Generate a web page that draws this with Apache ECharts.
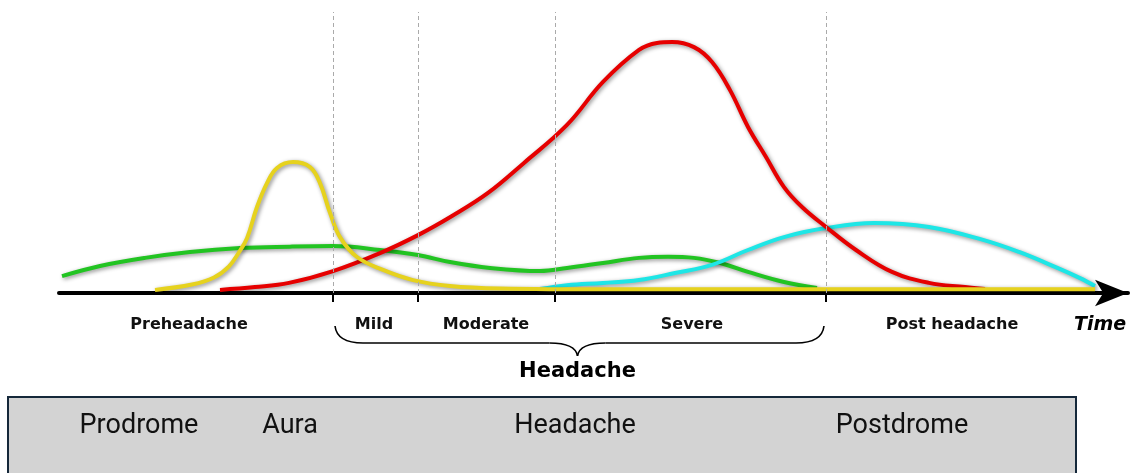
<!DOCTYPE html>
<html>
<head>
<meta charset="utf-8">
<script src="https://cdn.jsdelivr.net/npm/echarts@6/dist/echarts.min.js"></script>
<style>
html,body{margin:0;padding:0;background:#fff;}
#main{width:1134px;height:473px;}
</style>
</head>
<body>
<div id="main"></div>
<script>
// phase boundaries (time units) and labels under the axis
var boundaries = [27.4, 35.9, 49.6, 76.7];
var labelPos = [13.0, 31.5, 42.7, 63.3, 89.3, 104.1];
var labelNames = ['Preheadache', 'Mild', 'Moderate', 'Severe', 'Post headache', 'Time'];
var phaseNames = ['Prodrome', 'Aura', 'Headache', 'Postdrome'];
var phasePos = [8.0, 23.1, 51.6, 84.3];

// curves [time, intensity]
var greenData = [[0.3,6.0],[4.1,9.6],[8.6,12.5],[13.1,14.6],[18.1,16.0],[23.1,16.5],[27.4,16.7],[32.1,15.3],[35.9,13.5],[39.1,11.0],[43.1,8.9],[48.1,7.8],[50.8,8.9],[54.4,10.7],[58.0,12.5],[60.9,12.9],[63.5,12.5],[66.3,10.5],[68.9,7.5],[72.5,3.9],[75.8,1.8]];
var yellowData = [[9.6,1.1],[13.3,3.0],[15.5,5.5],[17.0,9.5],[18.0,14.5],[18.8,19.5],[19.8,30.6],[20.8,39.1],[21.8,44.5],[23.4,46.6],[25.1,44.8],[26.1,39.1],[27.1,28.5],[28.1,19.9],[29.8,12.8],[32.4,8.2],[35.4,4.6],[39.1,2.5],[44.1,1.6],[55,1.3],[70,1.3],[90,1.3],[103.6,1.3]];
var redData = [[16.1,1.1],[19.6,2.1],[23.0,3.6],[27.4,7.8],[32.1,14.2],[35.9,20.6],[39.3,27.4],[42.9,35.6],[46.5,46.3],[50.8,59.8],[54.4,75.1],[58.0,86.5],[59.8,89.0],[61.3,89.3],[63.5,87.5],[65.3,82.2],[67.1,72.2],[68.9,59.1],[70.7,48.4],[72.5,37.7],[74.3,30.6],[76.7,23.5],[79.7,15.3],[83.3,7.5],[87.0,3.6],[90.6,2.1],[92.6,1.4]];
var cyanData = [[48.1,1.4],[50.8,2.8],[54.4,3.6],[58.0,4.6],[61.6,7.1],[65.3,10.0],[68.9,15.3],[72.5,19.9],[76.7,23.1],[81.5,24.9],[87.0,23.5],[92.4,18.9],[96.0,14.6],[99.6,9.3],[102.1,5.3],[103.6,2.5]];

var chart = echarts.init(document.getElementById('main'));

function curve(name, color, data) {
	return {
		name: name,
		type: 'line',
		data: data,
		smooth: 0.4,
		symbol: 'none',
		silent: true,
		lineStyle: {
			color: color,
			width: 4,
			shadowBlur: 4,
			shadowColor: 'rgba(0,0,0,0.45)',
			shadowOffsetX: 1.5,
			shadowOffsetY: 1.5
		}
	};
}

var green = curve('green', '#22c422', greenData);
green.markLine = {
	silent: true,
	symbol: 'none',
	label: {show: false},
	lineStyle: {color: '#aaaaaa', width: 1, type: [4, 3]},
	data: boundaries.map(function (b) { return {xAxis: b}; })
};

chart.setOption({
	animation: false,
	grid: {left: 59, right: 6, top: 12, bottom: 180},
	xAxis: {
		type: 'value',
		min: 0,
		max: 106.9,
		splitLine: {show: false},
		axisLine: {
			show: true,
			symbol: ['none', 'arrow'],
			symbolSize: [20, 33],
			lineStyle: {color: '#000', width: 4}
		},
		axisTick: {
			show: true,
			customValues: boundaries,
			length: 9,
			lineStyle: {color: '#000', width: 2}
		},
		axisLabel: {
			show: true,
			customValues: labelPos,
			margin: 20,
			formatter: function (v) {
				var i = labelPos.indexOf(v);
				var t = labelNames[i];
				return t === 'Time' ? '{t|' + t + '}' : '{a|' + t + '}';
			},
			rich: {
				a: {fontFamily: 'DejaVu Sans', fontWeight: 'bold', fontSize: 16, color: '#111', lineHeight: 24},
				t: {fontFamily: 'DejaVu Sans', fontWeight: 'bold', fontStyle: 'italic', fontSize: 19, color: '#000', lineHeight: 24}
			}
		}
	},
	yAxis: {type: 'value', min: 0, max: 100, show: false},
	series: [
		green,
		curve('cyan', '#1ee6e6', cyanData),
		curve('red', '#e60000', redData),
		curve('yellow', '#e6d21e', yellowData)
	]
});

// brace under the headache phases, box of phase names
var x1 = chart.convertToPixel({xAxisIndex: 0}, boundaries[0]);
var x2 = chart.convertToPixel({xAxisIndex: 0}, boundaries[3]);
var mid = (x1 + x2) / 2 - 2;
var yTop = 326, yBar = 343, yTip = 356;
var brace = {stroke: '#000', lineWidth: 1.6, fill: null};

var graphics = [
	{type: 'bezierCurve', shape: {x1: x1 + 2, y1: yTop, cpx1: x1 + 4, cpy1: yBar, x2: x1 + 30, y2: yBar}, style: brace},
	{type: 'line', shape: {x1: x1 + 30, y1: yBar, x2: mid - 28, y2: yBar}, style: brace},
	{type: 'bezierCurve', shape: {x1: mid - 28, y1: yBar, cpx1: mid - 2, cpy1: yBar, x2: mid, y2: yTip}, style: brace},
	{type: 'bezierCurve', shape: {x1: mid, y1: yTip, cpx1: mid + 2, cpy1: yBar, x2: mid + 28, y2: yBar}, style: brace},
	{type: 'line', shape: {x1: mid + 28, y1: yBar, x2: x2 - 30, y2: yBar}, style: brace},
	{type: 'bezierCurve', shape: {x1: x2 - 30, y1: yBar, cpx1: x2 - 4, cpy1: yBar, x2: x2 - 2, y2: yTop}, style: brace},
	{
		type: 'text',
		x: mid,
		y: 372,
		style: {text: 'Headache', fontFamily: 'DejaVu Sans', fontWeight: 'bold', fontSize: 21, fill: '#000', align: 'center', verticalAlign: 'middle'}
	},
	{
		type: 'rect',
		shape: {x: 8, y: 397, width: 1068, height: 100},
		style: {fill: '#d3d3d3', stroke: '#15283a', lineWidth: 2}
	}
];
phaseNames.forEach(function (n, i) {
	graphics.push({
		type: 'text',
		x: chart.convertToPixel({xAxisIndex: 0}, phasePos[i]),
		y: 426,
		style: {text: n, fontFamily: 'Roboto', fontSize: 27, fill: '#111', align: 'center', verticalAlign: 'middle'}
	});
});
chart.setOption({graphic: graphics});
</script>
</body>
</html>
